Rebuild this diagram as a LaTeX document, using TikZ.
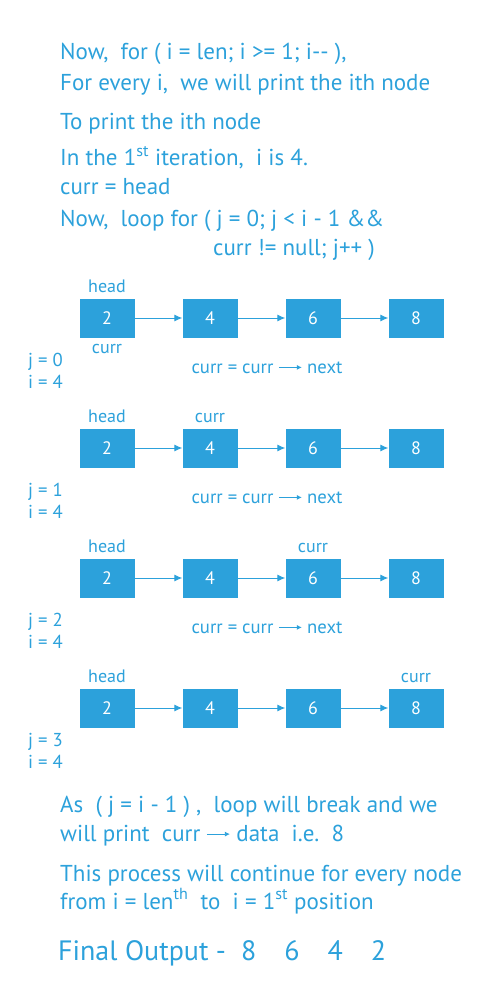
\documentclass[tikz,border=0pt]{standalone}
\usepackage{fontspec}
\setmainfont{PT Sans}
\usetikzlibrary{arrows.meta}
\definecolor{sky}{RGB}{44,161,219}
\newcommand{\ptr}{\tikz[baseline=-0.6ex]\draw[sky,line width=0.8pt,-{Latex[length=5pt,width=5pt]}] (0,0) -- (23pt,0);}

\begin{document}
\begin{tikzpicture}[x=1pt,y=-1pt,
  txt/.style={sky,anchor=base west,inner sep=0pt,font=\fontsize{23}{27}\selectfont},
  lbl/.style={sky,anchor=base,inner sep=0pt,font=\fontsize{18}{21}\selectfont},
  cnt/.style={sky,anchor=base west,inner sep=0pt,font=\fontsize{18.7}{22}\selectfont},
  cell/.style={fill=sky,text=white,minimum width=55pt,minimum height=39pt,inner sep=0pt,font=\fontsize{18}{21}\selectfont},
  link/.style={sky,line width=1pt,-{Latex[length=8pt,width=7pt]}}]
  \useasboundingbox (0,0) rectangle (500,1000);
  % Loop description.
  \node[txt] (t1) at (60,60)  {Now,\ \ for ( i = len; i >= 1; i-{}- ),};
  \node[txt] (t2) at (60,91)  {For every i,\ \ we will print the ith node};
  \node[txt] (t3) at (60,130) {To print the ith node};
  \node[txt] (t4) at (60,166) {In the 1\textsuperscript{st} iteration,\ \ i is 4.};
  \node[txt] (t5) at (60,195) {curr = head};
  \node[txt] (t6) at (60,226) {Now,\ \ loop for ( j = 0; j < i - 1 \&\&};
  \node[txt] (t7) at (213,255) {curr != null; j++ )};
  % j = 0.
  \begin{scope}[shift={(0,318)}]
    \node[cell] (A1) at (107,0) {2};
    \node[cell] (B1) at (210,0) {4};
    \node[cell] (C1) at (313,0) {6};
    \node[cell] (D1) at (416,0) {8};
    \draw[link] (A1) -- (B1);
    \draw[link] (B1) -- (C1);
    \draw[link] (C1) -- (D1);
    \node[lbl] (H1) at (107,-26) {head};
    \node[lbl] (P1) at (107,35)  {curr};
    \node[cnt] (J1) at (28,48) {j = 0};
    \node[cnt] (I1) at (28,70) {i = 4};
    \node[cnt,anchor=base] (S1) at (267,55) {curr = curr \ptr{} next};
  \end{scope}
  % j = 1.
  \begin{scope}[shift={(0,448)}]
    \node[cell] (A2) at (107,0) {2};
    \node[cell] (B2) at (210,0) {4};
    \node[cell] (C2) at (313,0) {6};
    \node[cell] (D2) at (416,0) {8};
    \draw[link] (A2) -- (B2);
    \draw[link] (B2) -- (C2);
    \draw[link] (C2) -- (D2);
    \node[lbl] (H2) at (107,-26) {head};
    \node[lbl] (P2) at (210,-26) {curr};
    \node[cnt] (J2) at (28,48) {j = 1};
    \node[cnt] (I2) at (28,70) {i = 4};
    \node[cnt,anchor=base] (S2) at (267,55) {curr = curr \ptr{} next};
  \end{scope}
  % j = 2.
  \begin{scope}[shift={(0,578)}]
    \node[cell] (A3) at (107,0) {2};
    \node[cell] (B3) at (210,0) {4};
    \node[cell] (C3) at (313,0) {6};
    \node[cell] (D3) at (416,0) {8};
    \draw[link] (A3) -- (B3);
    \draw[link] (B3) -- (C3);
    \draw[link] (C3) -- (D3);
    \node[lbl] (H3) at (107,-26) {head};
    \node[lbl] (P3) at (313,-26) {curr};
    \node[cnt] (J3) at (28,48) {j = 2};
    \node[cnt] (I3) at (28,70) {i = 4};
    \node[cnt,anchor=base] (S3) at (267,55) {curr = curr \ptr{} next};
  \end{scope}
  % j = 3.
  \begin{scope}[shift={(0,708)}]
    \node[cell] (A4) at (107,0) {2};
    \node[cell] (B4) at (210,0) {4};
    \node[cell] (C4) at (313,0) {6};
    \node[cell] (D4) at (416,0) {8};
    \draw[link] (A4) -- (B4);
    \draw[link] (B4) -- (C4);
    \draw[link] (C4) -- (D4);
    \node[lbl] (H4) at (107,-26) {head};
    \node[lbl] (P4) at (416,-26) {curr};
    \node[cnt] (J4) at (28,38) {j = 3};
    \node[cnt] (I4) at (28,60) {i = 4};
  \end{scope}
  % Loop ends.
  \node[txt] (b1) at (60,812) {As\ \ ( j = i - 1 ) ,\ \ loop will break and we};
  \node[txt] (b2) at (60,841) {will print\ \ curr \ptr{} data\ \ i.e.\ \ 8};
  \node[txt] (b3) at (60,881) {This process will continue for every node};
  \node[txt] (b4) at (60,909) {from i = len\textsuperscript{th}\ \ to\ \ i = 1\textsuperscript{st} position};
  \node[txt,font=\fontsize{28}{32}\selectfont] (fo) at (58,960) {Final Output -\ \ 8\quad 6\quad 4\quad 2};
\end{tikzpicture}
\end{document}
